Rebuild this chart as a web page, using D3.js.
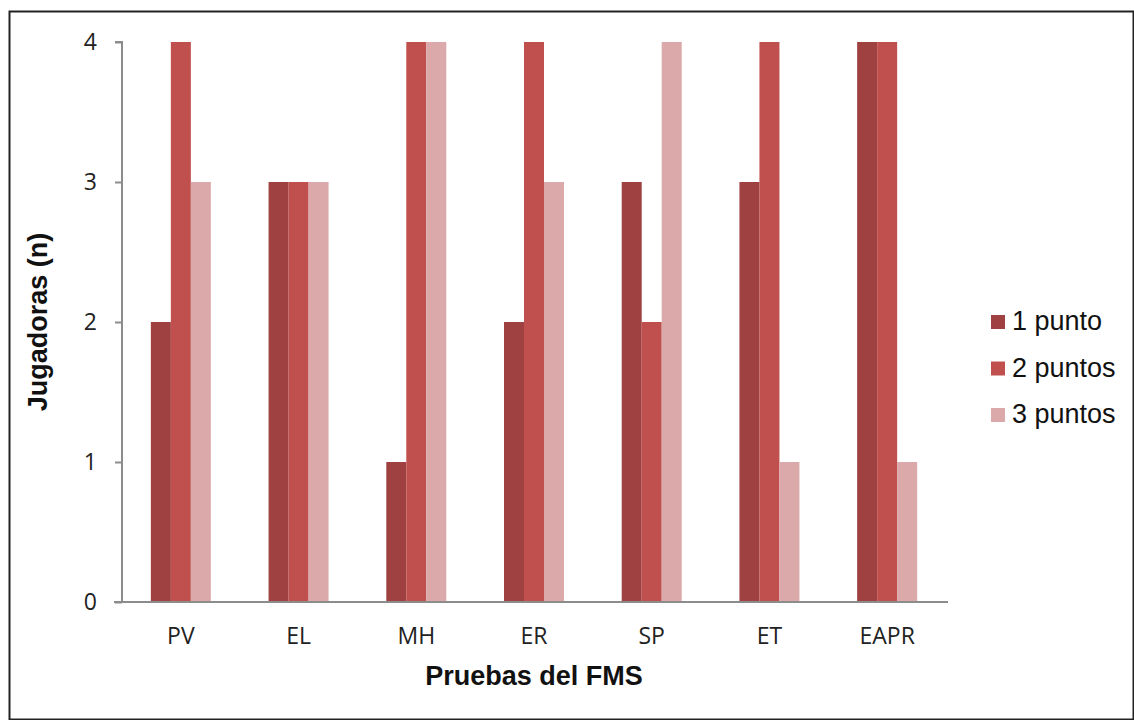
<!DOCTYPE html>
<html>
<head>
<meta charset="utf-8">
<script src="https://cdn.jsdelivr.net/npm/d3@7"></script>
<style>
  body { margin: 0; background: #fff; }
  svg { display: block; }
</style>
</head>
<body>
<div id="container"></div>
<script>
// chart data
const categories = ['PV', 'EL', 'MH', 'ER', 'SP', 'ET', 'EAPR'];
const seriesNames = ['1 punto', '2 puntos', '3 puntos'];
const onePoint = [2, 3, 1, 2, 3, 3, 4];
const twoPoints = [4, 3, 4, 4, 2, 4, 4];
const threePoints = [3, 3, 4, 3, 4, 1, 1];
const yTicks = [0, 1, 2, 3, 4];

const seriesValues = [onePoint, twoPoints, threePoints];
const colors = ['#9E4140', '#C0504D', '#DBA9A9'];

// dimensions
const width = 1134;
const height = 720;
const margin = { left: 122, right: 188, top: 42, bottom: 118 };

const svg = d3.select('#container')
              .append('svg')
              .attr('width', width)
              .attr('height', height);

// outer frame
svg.append('rect')
   .attr('x', 9.5)
   .attr('y', 11.5)
   .attr('width', 1124)
   .attr('height', 708)
   .attr('fill', 'none')
   .attr('stroke', '#222')
   .attr('stroke-width', 2);

const x = d3.scaleBand()
            .domain(categories)
            .range([margin.left, width - margin.right]);

const xInner = d3.scaleBand()
                 .domain(seriesNames)
                 .range([0, 60]);

const y = d3.scaleLinear()
            .domain([0, 4])
            .range([height - margin.bottom, margin.top]);

// bars
seriesNames.forEach((name, si) => {
    svg.append('g')
       .selectAll('rect')
       .data(categories)
       .enter()
       .append('rect')
       .attr('x', (d) => x(d) + x.bandwidth() / 2 - 30 + xInner(name))
       .attr('y', (d, i) => y(seriesValues[si][i]))
       .attr('width', xInner.bandwidth())
       .attr('height', (d, i) => y(0) - y(seriesValues[si][i]))
       .attr('fill', colors[si]);
});

// y axis
const yAxis = svg.append('g')
                 .attr('transform', `translate(${margin.left},0)`)
                 .call(d3.axisLeft(y).tickValues(yTicks).tickFormat(d3.format('d')).tickSize(7).tickPadding(18));
yAxis.select('.domain').attr('stroke', '#8c8c8c').attr('stroke-width', 2).attr('d', `M-7,${y(4)}H0V${y(0)}`);
yAxis.selectAll('.tick line').attr('stroke', '#8c8c8c').attr('stroke-width', 2);
yAxis.selectAll('.tick text')
     .attr('font-family', '"Open Sans", sans-serif')
     .attr('font-size', 23)
     .attr('fill', '#222');

// x axis
const xAxis = svg.append('g')
                 .attr('transform', `translate(0,${y(0)})`)
                 .call(d3.axisBottom(x).tickSize(0).tickPadding(26));
xAxis.select('.domain').attr('stroke', '#8c8c8c').attr('stroke-width', 2)
     .attr('d', `M${margin.left - 8},0H${width - margin.right + 2}`);
xAxis.selectAll('.tick text')
     .attr('font-family', '"Open Sans", sans-serif')
     .attr('font-size', 23)
     .attr('fill', '#222');

// axis titles
svg.append('text')
   .attr('x', (margin.left + width - margin.right) / 2)
   .attr('y', 685)
   .attr('text-anchor', 'middle')
   .attr('font-family', '"Liberation Sans", Arial, sans-serif')
   .attr('font-weight', 'bold')
   .attr('font-size', 27)
   .attr('fill', '#111')
   .text('Pruebas del FMS');

svg.append('text')
   .attr('transform', `translate(47,${(margin.top + height - margin.bottom) / 2}) rotate(-90)`)
   .attr('text-anchor', 'middle')
   .attr('font-family', '"Liberation Sans", Arial, sans-serif')
   .attr('font-weight', 'bold')
   .attr('font-size', 27)
   .attr('fill', '#111')
   .text('Jugadoras (n)');

// legend
const legend = svg.append('g')
                  .selectAll('g')
                  .data(seriesNames)
                  .enter()
                  .append('g')
                  .attr('transform', (d, i) => `translate(991,${322 + i * 46.5})`);

legend.append('rect')
      .attr('x', 0)
      .attr('y', -7)
      .attr('width', 14)
      .attr('height', 14)
      .attr('fill', (d, i) => colors[i]);

legend.append('text')
      .attr('x', 21)
      .attr('y', 8)
      .attr('font-family', '"Liberation Sans", Arial, sans-serif')
      .attr('font-size', 27)
      .attr('fill', '#111')
      .text((d) => d);
</script>
</body>
</html>
